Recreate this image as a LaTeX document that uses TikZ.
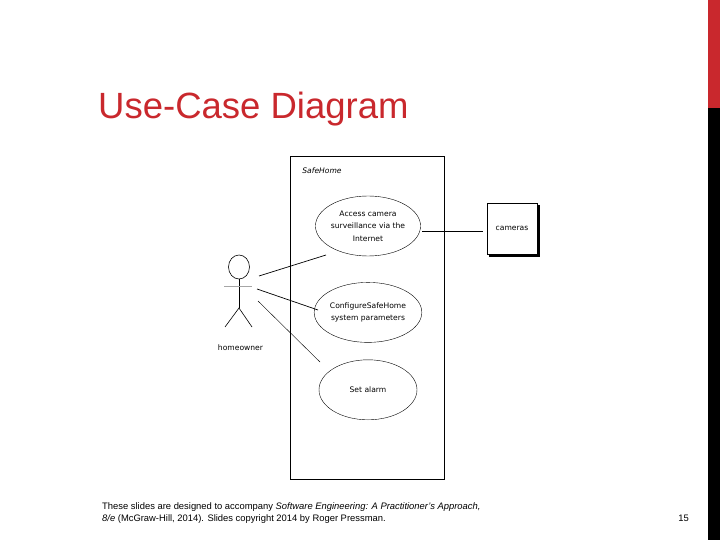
\documentclass[tikz,border=0pt]{standalone}
\usepackage{fontspec}
\setmainfont{Liberation Sans}
\newfontfamily\umlfont{DejaVu Sans}
\usepackage{xcolor}
\usetikzlibrary{positioning,shapes.geometric,shadows}
\definecolor{sliderouge}{HTML}{C9282D}

\begin{document}
\begin{tikzpicture}[
  x=1pt, y=-1pt,
  node distance=26pt,
  usecase/.style={draw, ellipse, minimum width=98pt, minimum height=60pt, inner sep=0pt, align=center, font=\umlfont\fontsize{7.6}{12.4}\selectfont},
  umltext/.style={font=\umlfont\fontsize{7.6}{10}\selectfont, inner sep=0pt},
  link/.style={draw, line width=0.7pt},
  limb/.style={draw, line width=0.6pt}
]
\useasboundingbox (0,0) rectangle (720,540);
\fill[sliderouge] (708,0) rectangle (720,108);
\fill[black] (708,108) rectangle (720,540);

\node[anchor=west, inner sep=0pt, text=sliderouge, font=\fontsize{36.5}{40}\selectfont] (title) at (98,109) {Use-Case Diagram};

% system boundary
\node[draw, line width=0.8pt, minimum width=154pt, minimum height=323pt, inner sep=0pt] (safehome) at (367,317.5) {};
\node[umltext, font=\umlfont\itshape\fontsize{7.6}{10}\selectfont] (safename) at (322,171) {SafeHome};

% use cases
\node[usecase] (access) at (368,226) {Access camera\\surveillance via the\\Internet};
\node[usecase, below=of access] (configure) {ConfigureSafeHome\\system parameters};
\node[usecase, below=17pt of configure] (alarm) {Set alarm};

% cameras
\node[draw, fill=white, line width=0.8pt, minimum width=50pt, minimum height=51pt, inner sep=0pt, umltext,
  copy shadow={shadow xshift=2.5pt, shadow yshift=-2.5pt, fill=black, draw=black}] (cameras) at (512,228.5) {cameras};

% actor
\node[draw, ellipse, line width=0.6pt, minimum width=21pt, minimum height=24pt, inner sep=0pt] (head) at (239,267) {};
\coordinate (armL) at (224,286);
\coordinate (armR) at (252,286);
\coordinate (hip) at (239,308);
\coordinate (footL) at (225,327);
\coordinate (footR) at (252,327);
\draw[limb] (head.south) -- (hip);
\draw[gray!70, line width=0.8pt] (armL) -- (armR);
\draw[limb] (footL) -- (hip) -- (footR);
\node[umltext] (homeowner) at (240.5,348) {homeowner};

% associations
\coordinate (a1) at (259,276);
\coordinate (b1) at (326,255);
\coordinate (a2) at (257,289);
\coordinate (b2) at (318,310);
\coordinate (a3) at (258,301);
\coordinate (b3) at (320,362);
\coordinate (c1) at (422,231);
\coordinate (c2) at (483,231);
\draw[link] (a1) -- (b1);
\draw[link] (a2) -- (b2);
\draw[draw, line width=0.4pt] (a3) -- (b3);
\draw[link] (c1) -- (c2);

% footer
\node[anchor=west, inner sep=0pt, font=\fontsize{9.4}{10}\selectfont] (note1) at (102,507) {These slides are designed to accompany \textit{Software Engineering: A Practitioner's Approach,}};
\node[anchor=west, inner sep=0pt, font=\fontsize{9.4}{10}\selectfont] (note2) at (102,519.5) {\textit{8/e} (McGraw-Hill, 2014). Slides copyright 2014 by Roger Pressman.};
\node[anchor=east, inner sep=0pt, font=\fontsize{9.4}{10}\selectfont] (pagenum) at (689,518) {15};
\end{tikzpicture}
\end{document}
